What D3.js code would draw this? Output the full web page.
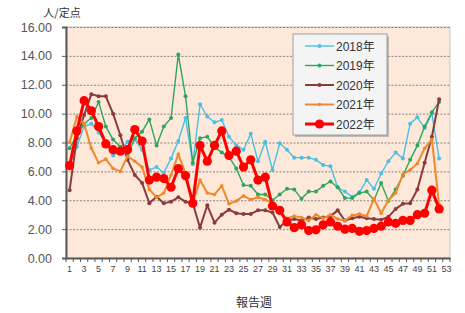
<!DOCTYPE html>
<html>
<head>
<meta charset="utf-8">
<script src="https://cdn.jsdelivr.net/npm/d3@7"></script>
<style>
  body { margin: 0; background: #fff; }
  svg { display: block; font-family: "Liberation Sans", "Noto Sans CJK JP", sans-serif; }
</style>
</head>
<body>
<svg id="chart"></svg>
<script>
// week numbers 1..53 on the axis
let weeks = d3.range(1, 54);
let yTicks = [0, 2, 4, 6, 8, 10, 12, 14, 16];

let seriesNames = ['2018年', '2019年', '2020年', '2021年', '2022年'];

let v2018 = [6.5, 7.7, 9.1, 9.3, 8.7, 8.0, 7.1, 7.4, 8.05, 8.2, 7.5, 6.1, 6.3, 5.9, 6.9, 8.1, 9.7, 6.5, 10.65, 9.8,
  9.4, 9.55, 8.4, 7.8, 7.5, 8.6, 6.7, 8.05, 6.1, 7.95, 7.5, 6.95, 6.95, 6.95, 6.8, 6.45, 6.35, 4.9, 4.6, 4.25,
  4.55, 5.4, 4.8, 5.85, 6.7, 7.3, 6.9, 9.3, 9.75, 9.0, 10.0, 6.9];
let v2019 = [7.6, 8.5, 9.3, 9.7, 10.8, 9.1, 8.2, 7.7, 7.1, 8.3, 8.75, 9.6, 7.8, 9.1, 9.7, 14.1, 11.2, 6.6, 8.3, 8.4,
  7.7, 7.3, 7.0, 6.2, 5.05, 5.0, 4.4, 4.4, 4.0, 4.4, 4.8, 4.75, 4.1, 4.6, 4.6, 5.0, 5.3, 4.9, 4.15, 4.15,
  4.5, 4.6, 4.0, 5.2, 3.95, 4.75, 5.7, 6.8, 7.8, 9.1, 10.1, 10.8];
let v2020 = [4.7, 8.3, 9.9, 11.35, 11.2, 11.2, 10.0, 8.5, 6.8, 5.75, 5.2, 3.8, 4.25, 3.8, 3.9, 4.2, 3.9, 3.8, 2.1, 3.65,
  2.45, 3.0, 3.35, 3.1, 3.05, 3.05, 3.3, 3.3, 3.15, 2.15, 2.6, 2.7, 2.6, 2.8, 2.7, 2.8, 2.9, 3.3, 2.6, 2.75,
  2.85, 2.75, 2.7, 2.65, 2.85, 3.4, 3.75, 3.8, 4.75, 6.6, 8.4, 11.0];
let v2021 = [8.0, 9.8, 9.3, 7.6, 6.6, 6.85, 6.2, 6.0, 7.05, 6.7, 6.3, 4.75, 4.2, 4.5, 5.75, 7.2, 5.85, 3.85, 5.4, 4.5,
  4.4, 5.0, 3.75, 3.95, 4.3, 4.05, 4.2, 4.05, 3.8, 3.1, 2.75, 2.9, 2.8, 2.6, 3.0, 2.75, 3.0, 2.7, 2.6, 2.95,
  3.05, 2.9, 4.1, 3.1, 4.0, 4.5, 5.8, 6.1, 6.55, 7.6, 8.2, 3.7];
let v2022 = [6.4, 8.8, 10.9, 10.2, 9.1, 7.9, 7.5, 7.4, 7.5, 8.9, 8.1, 5.4, 5.6, 5.5, 4.9, 6.2, 5.7, 3.8, 7.8, 6.7,
  7.8, 8.8, 7.1, 7.4, 6.3, 6.8, 5.4, 5.6, 3.6, 3.3, 2.5, 2.1, 2.3, 1.9, 1.95, 2.3, 2.5, 2.2, 2.0, 2.05,
  1.85, 1.9, 2.05, 2.2, 2.5, 2.4, 2.6, 2.6, 3.0, 3.1, 4.7, 3.4];

let w = 465, h = 313;
let plotLeft = 66, plotRight = 450, plotTop = 27, plotBottom = 258;

let series = [
  { name: seriesNames[0], values: v2018, color: '#4bbfe4', width: 1.4, r: 2 },
  { name: seriesNames[1], values: v2019, color: '#2ea65c', width: 1.4, r: 2 },
  { name: seriesNames[2], values: v2020, color: '#8c3b3b', width: 2, r: 2 },
  { name: seriesNames[3], values: v2021, color: '#ee8a2c', width: 2, r: 1.8 },
  { name: seriesNames[4], values: v2022, color: '#ff0000', width: 3, r: 4.6 }
];

let chart = d3.select('#chart')
  .attr('width', w)
  .attr('height', h);

let xScale = d3.scaleBand()
  .domain(weeks)
  .range([plotLeft, plotRight]);

let yScale = d3.scaleLinear()
  .domain([0, 16])
  .range([plotBottom, plotTop]);

let xc = (i) => xScale(i + 1) + xScale.bandwidth() / 2;

// plot area
chart.append('rect')
  .attr('x', plotLeft)
  .attr('y', plotTop)
  .attr('width', plotRight - plotLeft)
  .attr('height', plotBottom - plotTop)
  .attr('fill', '#fde8da')
  .attr('stroke', '#c8c8c8')
  .attr('stroke-width', 1);

// dashed gridlines
chart.append('g')
  .selectAll('line')
  .data(yTicks.filter((d) => d > 0))
  .enter()
  .append('line')
  .attr('x1', plotLeft)
  .attr('x2', plotRight)
  .attr('y1', (d) => yScale(d) + 0.5)
  .attr('y2', (d) => yScale(d) + 0.5)
  .attr('stroke', '#6b6b6b')
  .attr('stroke-width', 0.8)
  .attr('stroke-dasharray', '2,1.5');

// y axis
let yAxis = chart.append('g')
  .attr('transform', `translate(${plotLeft},0)`)
  .call(d3.axisLeft(yScale).tickValues(yTicks).tickSize(4).tickPadding(10).tickFormat(d3.format('.2f')));
yAxis.select('.domain').attr('stroke', '#595959').attr('stroke-width', 2);
yAxis.selectAll('.tick line').attr('stroke', '#595959');
yAxis.selectAll('text').attr('font-size', 12.5).attr('fill', '#555');

// x axis
let xAxis = chart.append('g')
  .attr('transform', `translate(0,${plotBottom})`)
  .call(d3.axisBottom(xScale).tickSize(0).tickPadding(8)
    .tickFormat((d) => d % 2 === 1 ? d : ''));
xAxis.select('.domain').attr('stroke', '#595959').attr('stroke-width', 2);
xAxis.selectAll('text').attr('font-size', 9).attr('fill', '#444');

// category boundary ticks
chart.append('g')
  .selectAll('line')
  .data(d3.range(0, weeks.length + 1))
  .enter()
  .append('line')
  .attr('x1', (d) => plotLeft + d * xScale.bandwidth())
  .attr('x2', (d) => plotLeft + d * xScale.bandwidth())
  .attr('y1', plotBottom)
  .attr('y2', plotBottom + 4)
  .attr('stroke', '#595959')
  .attr('stroke-width', 1);

// lines + markers
let line = d3.line()
  .x((d, i) => xc(i))
  .y((d) => yScale(d));

series.forEach((s) => {
  let g = chart.append('g');
  g.append('path')
    .datum(s.values)
    .attr('d', line)
    .attr('fill', 'none')
    .attr('stroke', s.color)
    .attr('stroke-width', s.width)
    .attr('stroke-linejoin', 'round');
  g.selectAll('circle')
    .data(s.values)
    .enter()
    .append('circle')
    .attr('cx', (d, i) => xc(i))
    .attr('cy', (d) => yScale(d))
    .attr('r', s.r)
    .attr('fill', s.color);
});

// titles
chart.append('text')
  .attr('x', 62)
  .attr('y', 17)
  .attr('text-anchor', 'middle')
  .attr('font-family', '"Noto Sans CJK JP", sans-serif')
  .attr('font-size', 11)
  .attr('fill', '#333')
  .text('人/定点');

chart.append('text')
  .attr('x', 254)
  .attr('y', 307)
  .attr('text-anchor', 'middle')
  .attr('font-family', '"Noto Sans CJK JP", sans-serif')
  .attr('font-size', 12)
  .attr('fill', '#333')
  .text('報告週');

// legend
let lg = chart.append('g').attr('transform', 'translate(293,34)');
lg.append('rect')
  .attr('x', 2).attr('y', 2)
  .attr('width', 94).attr('height', 101)
  .attr('fill', '#9a9a9a').attr('opacity', 0.6);
lg.append('rect')
  .attr('width', 94).attr('height', 101)
  .attr('fill', '#f4f4f4')
  .attr('stroke', '#8c8c8c')
  .attr('stroke-width', 0.8);

let rows = lg.selectAll('.row')
  .data(series)
  .enter()
  .append('g')
  .attr('class', 'row')
  .attr('transform', (d, i) => `translate(0,${12 + i * 19.5})`);
rows.append('line')
  .attr('x1', 12).attr('x2', 41)
  .attr('stroke', (d) => d.color)
  .attr('stroke-width', (d) => d.width);
rows.append('circle')
  .attr('cx', 26.5)
  .attr('r', (d) => d.r)
  .attr('fill', (d) => d.color);
rows.append('text')
  .attr('x', 43)
  .attr('y', 4.5)
  .attr('font-family', '"Liberation Sans", "Noto Sans CJK JP", sans-serif')
  .attr('font-size', 12)
  .attr('fill', '#333')
  .text((d) => d.name);
</script>
</body>
</html>
